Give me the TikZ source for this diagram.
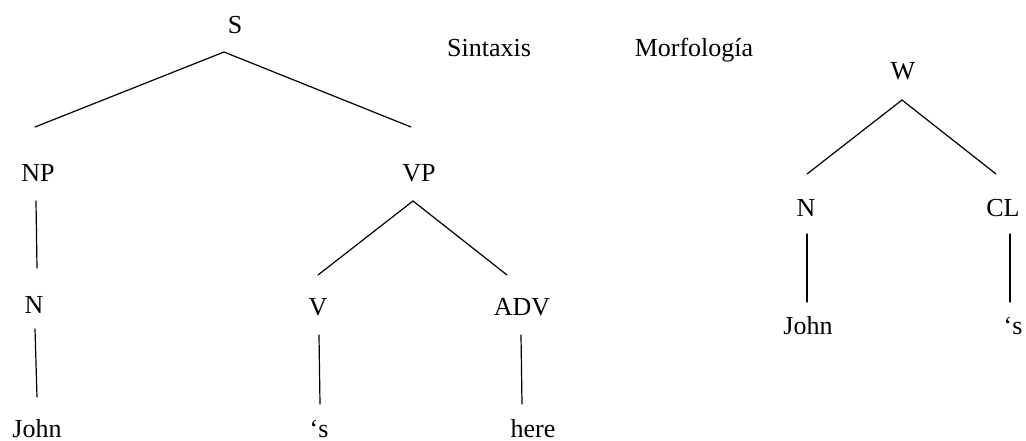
\documentclass[tikz,border=0pt]{standalone}
\usepackage{fontspec}
\setmainfont{Liberation Serif}
\begin{document}
\begin{tikzpicture}[x=1pt,y=-1pt,
  lbl/.style={anchor=base,inner sep=0pt,font=\fontsize{26}{30}\selectfont},
  branch/.style={line width=1.2pt,line cap=round,line join=miter}]
\useasboundingbox (0,0) rectangle (1026,441);

% ---- syntactic tree ----
\node[lbl] (S)     at (235,34)  {S};
\node[lbl] (NP)    at (38,182)  {NP};
\node[lbl] (VP)    at (419,182) {VP};
\node[lbl] (N1)    at (34,313)  {N};
\node[lbl] (V)     at (318,315) {V};
\node[lbl] (ADV)   at (522,315) {ADV};
\node[lbl] (John1) at (37,437)  {John};
\node[lbl] (s1)    at (319,437) {‘s};
\node[lbl] (here)  at (533,437) {here};

% ---- headings ----
\node[lbl] (sint) at (489,57) {Sintaxis};
\node[lbl] (morf) at (694,57) {Morfología};

% ---- morphological tree ----
\node[lbl] (W)     at (903,80)   {W};
\node[lbl] (N2)    at (806,216)  {N};
\node[lbl] (CL)    at (1003,216) {CL};
\node[lbl] (John2) at (808,334)  {John};
\node[lbl] (s2)    at (1013,334) {‘s};

% branch points and line ends
\coordinate (S-top)    at (224,52);
\coordinate (NP-top)   at (35,127);
\coordinate (VP-top)   at (411,127);
\coordinate (NP-down)  at (36,201);
\coordinate (N1-up)    at (37,268);
\coordinate (N1-down)  at (35,329);
\coordinate (John1-up) at (37,397);
\coordinate (VP-down)  at (413,201);
\coordinate (V-up)     at (318,275);
\coordinate (ADV-up)   at (507,275);
\coordinate (V-down)   at (319,335);
\coordinate (s1-up)    at (320,404);
\coordinate (ADV-down) at (521,335);
\coordinate (here-up)  at (522,404);
\coordinate (W-down)   at (902,100);
\coordinate (N2-up)    at (807,174);
\coordinate (CL-up)    at (996,174);
\coordinate (N2-down)  at (807,234);
\coordinate (John2-up) at (807,302);
\coordinate (CL-down)  at (1010,234);
\coordinate (s2-up)    at (1010,302);

\draw[branch] (NP-top) -- (S-top) -- (VP-top);
\draw[branch] (NP-down) -- (N1-up);
\draw[branch] (N1-down) -- (John1-up);
\draw[branch] (V-up) -- (VP-down) -- (ADV-up);
\draw[branch] (V-down) -- (s1-up);
\draw[branch] (ADV-down) -- (here-up);
\draw[branch] (N2-up) -- (W-down) -- (CL-up);
\draw[branch] (N2-down) -- (John2-up);
\draw[branch] (CL-down) -- (s2-up);
\end{tikzpicture}
\end{document}
